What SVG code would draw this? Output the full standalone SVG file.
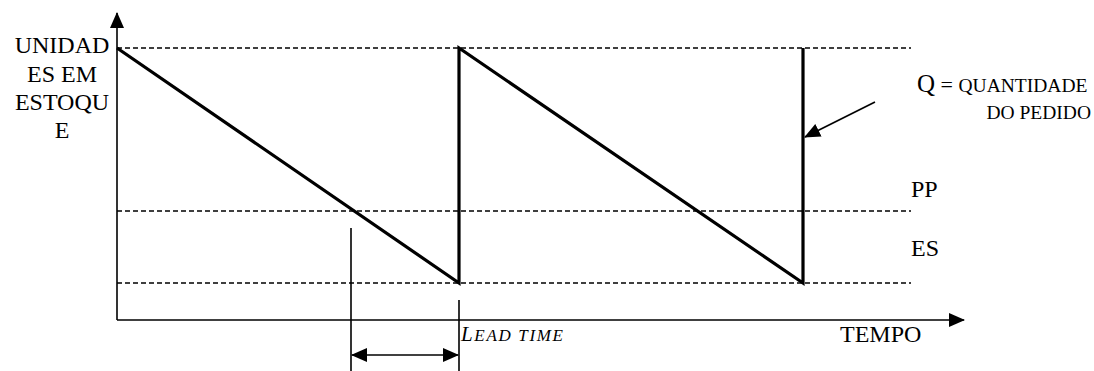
<svg xmlns="http://www.w3.org/2000/svg" width="1094" height="371" viewBox="0 0 1094 371" font-family="'Liberation Serif', 'Times New Roman', 'DejaVu Serif', serif">
<style>
text, tspan {font-family:"Liberation Serif", "Times New Roman", "DejaVu Serif", serif; fill:#000}
.lbl{font-size:24px}
.sc{font-size:19.5px}
.dash{stroke:#000;stroke-width:1.3;stroke-dasharray:5,3;fill:none}
.axis{stroke:#000;stroke-width:1.6;fill:none}
.saw{stroke:#000;stroke-width:3.2;fill:none;stroke-linejoin:miter}
.thin{stroke:#000;stroke-width:1.6;fill:none}
</style>
<defs>
<marker id="ah" markerWidth="16" markerHeight="14" refX="15" refY="7" orient="auto" markerUnits="userSpaceOnUse"><path d="M0,0 L16,7 L0,14 Z" fill="#000"/></marker>
<marker id="ahs" markerWidth="16" markerHeight="14" refX="1" refY="7" orient="auto" markerUnits="userSpaceOnUse"><path d="M16,0 L0,7 L16,14 Z" fill="#000"/></marker>
</defs>
<g id="axes">
<line class="axis" x1="117" y1="320" x2="117" y2="13" marker-end="url(#ah)"/>
<line class="axis" x1="117" y1="320" x2="964" y2="320" marker-end="url(#ah)"/>
</g>
<g id="levels">
<line class="dash" x1="117" y1="48" x2="911" y2="48"/>
<line class="dash" x1="117" y1="211" x2="911" y2="211"/>
<line class="dash" x1="117" y1="283" x2="911" y2="283"/>
</g>
<g id="sawtooth">
<polyline class="saw" points="117,48 459,283 459,48 803,283 803,48"/>
</g>
<g id="connectors">
<line class="thin" x1="351" y1="228" x2="351" y2="371"/>
<line class="thin" x1="459" y1="300" x2="459" y2="371"/>
<line class="thin" x1="352" y1="355" x2="458" y2="355" marker-start="url(#ahs)" marker-end="url(#ah)"/>
<line class="thin" x1="875" y1="102" x2="805" y2="137" marker-end="url(#ah)"/>
</g>
<g id="label-y">
<text class="lbl" x="62" y="53" text-anchor="middle">UNIDAD</text>
<text class="lbl" x="62" y="82" text-anchor="middle">ES EM</text>
<text class="lbl" x="62" y="110" text-anchor="middle">ESTOQU</text>
<text class="lbl" x="62" y="138" text-anchor="middle">E</text>
</g>
<g id="label-q">
<text x="917" y="92"><tspan style="font-size:25px">Q</tspan><tspan style="font-size:22px"> = </tspan><tspan class="sc">QUANTIDADE</tspan></text>
<text class="sc" x="1091" y="119" text-anchor="end">DO PEDIDO</text>
</g>
<g id="label-pp"><text class="lbl" x="911" y="197">PP</text></g>
<g id="label-es"><text class="lbl" x="911" y="256">ES</text></g>
<g id="label-tempo"><text class="lbl" x="840" y="342">TEMPO</text></g>
<g id="label-lead">
<text x="461" y="341" font-style="italic" textLength="102" lengthAdjust="spacing"><tspan style="font-size:21px">L</tspan><tspan style="font-size:17px">EAD TIME</tspan></text>
</g>
</svg>
